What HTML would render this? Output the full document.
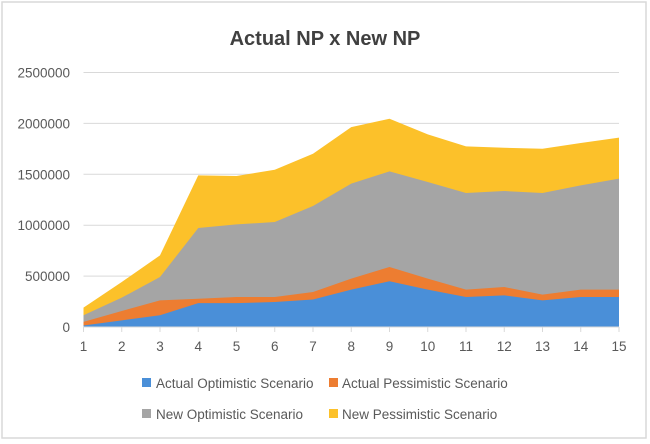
<!DOCTYPE html>
<html><head><meta charset="utf-8"><style>
body{margin:0;background:#fff;}
svg{display:block;font-family:"Liberation Sans",sans-serif;}
</style></head><body>
<svg id="chart" width="650" height="444" viewBox="0 0 650 444">
<rect x="2" y="2" width="644" height="436" fill="#fff" stroke="#d9d9d9" stroke-width="1.5"/>
<text x="325" y="45" text-anchor="middle" font-size="20" font-weight="bold" fill="#404040">Actual NP x New NP</text>
<g id="grid"></g><g id="areas"></g><g id="axes"></g>
<g font-size="13.5" fill="#595959">
<rect x="142" y="378" width="9" height="9" fill="#4a8fd8"/>
<text x="156" y="388">Actual Optimistic Scenario</text>
<rect x="329" y="378" width="9" height="9" fill="#ed7d31"/>
<text x="342" y="388">Actual Pessimistic Scenario</text>
<rect x="142" y="409" width="9" height="9" fill="#a5a5a5"/>
<text x="156" y="419">New Optimistic Scenario</text>
<rect x="329" y="409" width="9" height="9" fill="#fcc12a"/>
<text x="342" y="419">New Pessimistic Scenario</text>
</g>
</svg>
<script>
const categories=[1,2,3,4,5,6,7,8,9,10,11,12,13,14,15];
const actualOptimistic=[15000,65000,115000,235000,235000,245000,270000,367000,450000,367000,295000,311000,262000,295000,295000];
const actualPessimistic=[50000,157000,262000,278000,295000,295000,344000,475000,590000,475000,367000,393000,318000,367000,367000];
const newOptimistic=[115000,288000,491000,972000,1008000,1031000,1188000,1408000,1529000,1424000,1316000,1336000,1316000,1391000,1457000];
const newPessimistic=[190000,442000,704000,1490000,1483000,1545000,1702000,1964000,2046000,1892000,1774000,1761000,1751000,1807000,1860000];
const yTicks=[0,500000,1000000,1500000,2000000,2500000];
const NS='http://www.w3.org/2000/svg';
const x0=83.5,x1=619,yB=327,yT=72.5,yMax=2500000;
function xs(i){return x0+(x1-x0)*i/(categories.length-1);}
function ys(v){return yB-(yB-yT)*v/yMax;}
const grid=document.getElementById('grid'),axes=document.getElementById('axes'),areas=document.getElementById('areas');
yTicks.forEach(t=>{
 const l=document.createElementNS(NS,'line');
 l.setAttribute('x1',x0);l.setAttribute('x2',x1);l.setAttribute('y1',ys(t));l.setAttribute('y2',ys(t));
 l.setAttribute('stroke','#d9d9d9');l.setAttribute('stroke-width','1');
 
 
 grid.appendChild(l);
 const tx=document.createElementNS(NS,'text');
 tx.setAttribute('x',70);tx.setAttribute('y',ys(t)+5);tx.setAttribute('text-anchor','end');
 tx.setAttribute('font-size','13.5');tx.setAttribute('fill','#595959');tx.textContent=t;
 
 
 axes.appendChild(tx);
});
categories.forEach((c,i)=>{
 const tx=document.createElementNS(NS,'text');
 tx.setAttribute('x',xs(i));tx.setAttribute('y',yB+24);tx.setAttribute('text-anchor','middle');
 tx.setAttribute('font-size','13.5');tx.setAttribute('fill','#595959');tx.textContent=c;
 
 
 axes.appendChild(tx);
 const tk=document.createElementNS(NS,'line');
 tk.setAttribute('x1',xs(i));tk.setAttribute('x2',xs(i));tk.setAttribute('y1',yB);tk.setAttribute('y2',yB+5);
 tk.setAttribute('stroke','#d9d9d9');
 
 
 axes.appendChild(tk);
});
const series=[[newPessimistic,'#fcc12a','area-new-pessimistic'],[newOptimistic,'#a5a5a5','area-new-optimistic'],[actualPessimistic,'#ed7d31','area-actual-pessimistic'],[actualOptimistic,'#4a8fd8','area-actual-optimistic']];
series.forEach(s=>{
 let d='M'+xs(0)+','+yB;
 s[0].forEach((v,i)=>{d+=' L'+xs(i)+','+ys(v);});
 d+=' L'+xs(categories.length-1)+','+yB+' Z';
 const p=document.createElementNS(NS,'path');
 p.setAttribute('d',d);p.setAttribute('fill',s[1]);
 
 
 areas.appendChild(p);
});
const ax=document.createElementNS(NS,'line');
ax.setAttribute('x1',x0);ax.setAttribute('x2',x1);ax.setAttribute('y1',yB);ax.setAttribute('y2',yB);
ax.setAttribute('stroke','#d9d9d9');


axes.appendChild(ax);
</script>
</body></html>
